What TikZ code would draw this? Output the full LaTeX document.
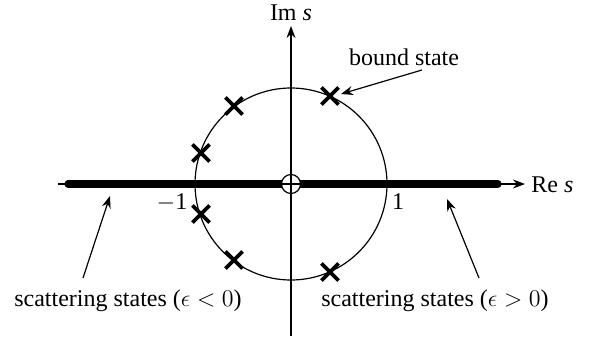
\documentclass[tikz,border=0pt]{standalone}
\usepackage{fontspec}
\setmainfont{Liberation Serif}
\usetikzlibrary{arrows.meta,shapes.misc}
\begin{document}
\begin{tikzpicture}[x=0.5pt,y=-0.5pt,
  pole/.style={cross out,draw,line width=1.8pt,minimum size=6.8pt,inner sep=0pt},
  lbl/.style={font=\fontsize{12}{14}\selectfont,inner sep=1pt},
  axis/.style={line width=0.65pt},
  tip/.style={-{Stealth[length=6pt,width=4.5pt]}},
  bar/.style={line width=3.6pt,line cap=round}]
\useasboundingbox (0,0) rectangle (595,343);
% coordinates
\coordinate (O) at (291,184);
\coordinate (xl) at (58,184);
\coordinate (xr) at (525,184);
\coordinate (yb) at (291,336);
\coordinate (yt) at (291,26);
\coordinate (bl) at (68,184);
\coordinate (bo1) at (282,184);
\coordinate (bo2) at (300,184);
\coordinate (br) at (498,184);
% circle
\draw[line width=0.6pt] (O) circle [radius=48pt];
% thick bars
\draw[bar] (bl) -- (bo1);
\draw[bar] (bo2) -- (br);
\node[circle,draw,fill=white,line width=0.6pt,minimum size=9.5pt,inner sep=0pt] (oc) at (O) {};
% axes
\draw[axis,tip] (xl) -- (xr);
\draw[axis,tip] (yb) -- (yt);
% poles
\node[pole] (p1) at (330,96) {};
\node[pole] (p2) at (234,106) {};
\node[pole] (p3) at (201,153) {};
\node[pole] (p4) at (201,214) {};
\node[pole] (p5) at (234,260) {};
\node[pole] (p6) at (330,272) {};
% labels
\node[lbl] (im) at (291,13) {Im \textit{s}};
\node[lbl,anchor=west] (re) at (529,185) {Re \textit{s}};
\node[lbl] (m1) at (172,203) {$-$1};
\node[lbl] (one) at (398,202) {1};
\node[lbl] (bs) at (404,57) {bound state};
\node[lbl] (sl) at (128,301) {scattering states ($\epsilon<0$)};
\node[lbl] (sr) at (435,301) {scattering states ($\epsilon>0$)};
% arrows
\coordinate (a1s) at (422,70);
\coordinate (a1e) at (341,94);
\coordinate (a2s) at (83,278);
\coordinate (a2e) at (110,196);
\coordinate (a3s) at (479,278);
\coordinate (a3e) at (447,199);
\draw[line width=0.6pt,tip] (a1s) -- (a1e);
\draw[line width=0.6pt,tip] (a2s) -- (a2e);
\draw[line width=0.6pt,tip] (a3s) -- (a3e);
\end{tikzpicture}
\end{document}
